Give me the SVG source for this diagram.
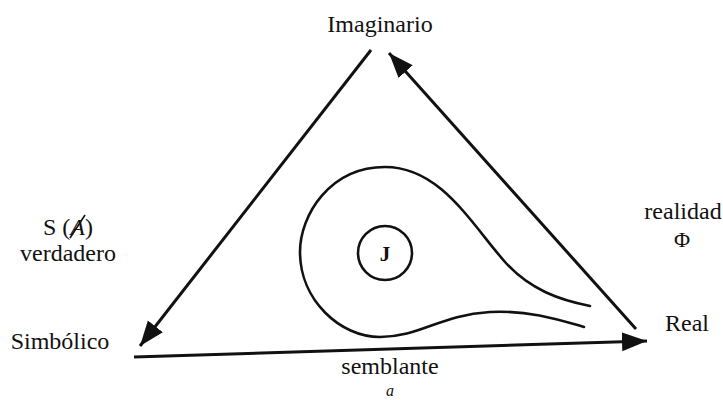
<svg xmlns="http://www.w3.org/2000/svg" width="723" height="400" viewBox="0 0 723 400">
<style>
text{font-family:"Liberation Serif","Times New Roman","DejaVu Serif",serif;fill:#111;}
.lbl{font-size:24px;}
.ln{stroke:#111;stroke-width:3;fill:none;}
.crv{stroke:#111;stroke-width:2.6;fill:none;stroke-linecap:round;}
</style>
<defs>
<marker id="ah" markerUnits="userSpaceOnUse" markerWidth="26" markerHeight="20" refX="25" refY="9.5" orient="auto">
<path d="M0,0 L25,9.5 L0,19 z" fill="#111"/>
</marker>
</defs>
<rect width="723" height="400" fill="#fff"/>
<g id="connectors">
<line class="ln" x1="371" y1="50" x2="140" y2="346" marker-end="url(#ah)"/>
<line class="ln" x1="636" y1="329" x2="389" y2="53" marker-end="url(#ah)"/>
<line class="ln" x1="134" y1="357" x2="647" y2="341" marker-end="url(#ah)"/>
</g>
<g id="imaginario"><text class="lbl" x="380" y="32" text-anchor="middle">Imaginario</text></g>
<g id="simbolico"><text class="lbl" x="60" y="349" text-anchor="middle">Simbólico</text></g>
<g id="real"><text class="lbl" x="687" y="331" text-anchor="middle">Real</text></g>
<g id="label-verdadero">
<text class="lbl" x="68" y="235" text-anchor="middle">S (<tspan font-style="italic">A</tspan>)</text>
<line x1="70" y1="238" x2="85" y2="215" stroke="#111" stroke-width="1.6"/>
<text class="lbl" x="68" y="261" text-anchor="middle">verdadero</text>
</g>
<g id="label-realidad">
<text class="lbl" x="683" y="219" text-anchor="middle">realidad</text>
<text x="682" y="247" text-anchor="middle" font-size="22">Φ</text>
</g>
<g id="label-semblante">
<text class="lbl" x="390" y="374" text-anchor="middle">semblante</text>
<text x="390" y="396" text-anchor="middle" font-size="16" font-style="italic">a</text>
</g>
<g id="loop">
<path class="crv" d="M 590 306 C 560 300, 530 290, 505 262 C 470 222, 440 167, 385 167 C 330 167, 300 215, 300 252 C 300 300, 340 337, 380 337 C 420 337, 440 315, 490 312 C 530 310, 560 320, 584 327"/>
</g>
<g id="J">
<circle cx="385" cy="253" r="27" fill="none" stroke="#111" stroke-width="2.6"/>
<text x="385" y="261" text-anchor="middle" font-weight="bold" font-size="21">J</text>
</g>
</svg>
